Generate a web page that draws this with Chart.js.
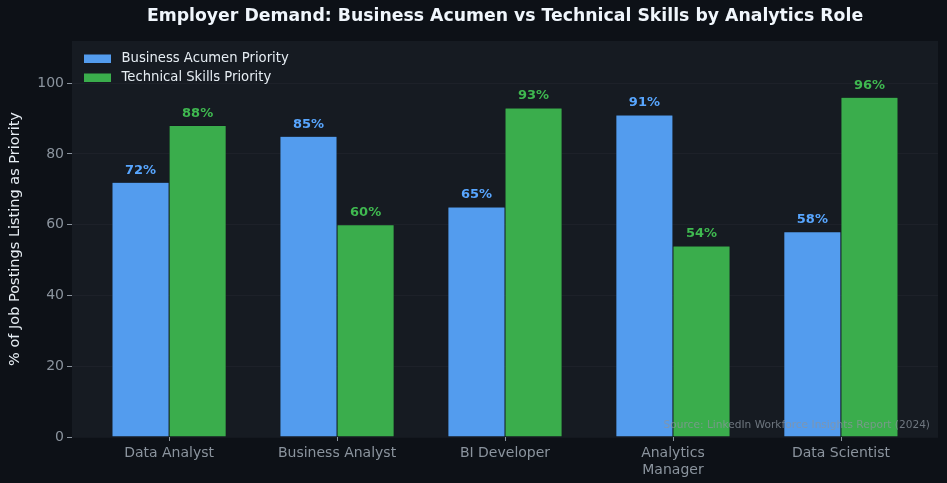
<!DOCTYPE html>
<html>
<head>
<meta charset="utf-8">
<script src="https://cdn.jsdelivr.net/npm/chart.js@4"></script>
<style>
  html, body { margin: 0; padding: 0; background: #0d1117; }
  #wrap { width: 947px; height: 483px; }
</style>
</head>
<body>
<div id="wrap"><canvas id="chart" width="947" height="483"></canvas></div>
<script>
// data
const roles = ['Data Analyst', 'Business Analyst', 'BI Developer', 'Analytics Manager', 'Data Scientist'];
const businessAcumen = [72, 85, 65, 91, 58];
const technicalSkills = [88, 60, 93, 54, 96];
const yTicks = [0, 20, 40, 60, 80, 100];

const blue = '#539cee';
const green = '#3aad4c';
const font = '"DejaVu Sans", sans-serif';

// split long labels in two lines like the original
function wrapLabel(s) {
    if (s === 'Analytics Manager') return ['Analytics', 'Manager'];
    return s;
}

const decor = {
    id: 'decor',
    beforeDraw(chart) {
        const ctx = chart.ctx;
        const a = chart.chartArea;
        ctx.save();
        ctx.fillStyle = '#0d1117';
        ctx.fillRect(0, 0, chart.width, chart.height);
        ctx.fillStyle = '#161b22';
        ctx.fillRect(a.left, a.top, a.right - a.left, a.bottom - a.top);
        ctx.restore();
    },
    afterDatasetsDraw(chart) {
        const ctx = chart.ctx;
        const a = chart.chartArea;
        ctx.save();

        // value labels
        ctx.font = 'bold 13px ' + font;
        ctx.textAlign = 'center';
        ctx.textBaseline = 'middle';
        const labelColors = ['#58a6ff', '#3fb950'];
        chart.data.datasets.forEach((ds, di) => {
            chart.getDatasetMeta(di).data.forEach((bar, i) => {
                ctx.fillStyle = labelColors[di];
                ctx.fillText(ds.data[i].y + '%', bar.x, bar.y - 12);
            });
        });

        // legend inside the plot
        ctx.font = '13.2px ' + font;
        ctx.textAlign = 'left';
        chart.data.datasets.forEach((ds, di) => {
            const y = a.top + 17.5 + di * 19;
            ctx.fillStyle = ds.backgroundColor;
            ctx.fillRect(a.left + 12, y - 4, 27, 8.5);
            ctx.fillStyle = '#e6edf3';
            ctx.fillText(ds.label, a.left + 49.5, y);
        });

        // source note
        ctx.font = '10.6px ' + font;
        ctx.textAlign = 'right';
        ctx.fillStyle = 'rgba(139,148,158,0.75)';
        ctx.fillText('Source: LinkedIn Workforce Insights Report (2024)', a.right - 8, a.bottom - 12);

        // x tick marks
        ctx.strokeStyle = '#8b949e';
        ctx.lineWidth = 1;
        chart.scales.x.ticks.forEach(t => {
            const x = Math.round(chart.scales.x.getPixelForValue(t.value)) + 0.5;
            ctx.beginPath();
            ctx.moveTo(x, a.bottom);
            ctx.lineTo(x, a.bottom + 4);
            ctx.stroke();
        });

        // title centred over the plot
        ctx.font = 'bold 17.3px ' + font;
        ctx.textAlign = 'center';
        ctx.fillStyle = '#f0f6fc';
        ctx.fillText('Employer Demand: Business Acumen vs Technical Skills by Analytics Role', (a.left + a.right) / 2, 17);
        ctx.restore();
    }
};

const ctx = document.getElementById('chart').getContext('2d');
new Chart(ctx, {
    type: 'bar',
    data: {
        datasets: [{
            label: 'Business Acumen Priority',
            data: businessAcumen.map((v, i) => ({ x: i, y: v })),
            backgroundColor: blue,
            borderColor: 'rgba(13,17,23,0.8)',
            borderWidth: 0.5
        }, {
            label: 'Technical Skills Priority',
            data: technicalSkills.map((v, i) => ({ x: i, y: v })),
            backgroundColor: green,
            borderColor: 'rgba(13,17,23,0.8)',
            borderWidth: 0.5
        }]
    },
    options: {
        responsive: false,
        animation: false,
        categoryPercentage: 0.68,
        barPercentage: 1,
        layout: { padding: { top: 41, right: 9, left: 0, bottom: 0 } },
        plugins: {
            legend: { display: false },
            tooltip: { enabled: false }
        },
        scales: {
            x: {
                type: 'linear',
                offset: false,
                min: -0.578,
                max: 4.578,
                afterBuildTicks: axis => { axis.ticks = roles.map((_, i) => ({ value: i })); },
                afterFit: axis => { axis.height = 46; },
                border: { display: false },
                grid: {
                    offset: false,
                    drawOnChartArea: false,
                    drawTicks: true,
                    tickLength: 5,
                    tickColor: 'rgba(0,0,0,0)'
                },
                ticks: {
                    color: '#8b949e',
                    font: { family: font, size: 14 },
                    padding: 3,
                    maxRotation: 0,
                    autoSkip: false,
                    callback: v => wrapLabel(roles[v])
                }
            },
            y: {
                min: 0,
                max: 111.9,
                afterBuildTicks: axis => { axis.ticks = yTicks.map(v => ({ value: v })); },
                afterFit: axis => { axis.width = 72; },
                border: { display: false },
                grid: {
                    color: 'rgba(110,118,129,0.08)',
                    borderDash: [2, 3],
                    tickLength: 5,
                    tickColor: '#8b949e'
                },
                ticks: {
                    color: '#8b949e',
                    font: { family: font, size: 14 },
                    padding: 3
                },
                title: {
                    display: true,
                    text: '% of Job Postings Listing as Priority',
                    color: '#e6edf3',
                    font: { family: font, size: 14.5 },
                    padding: { top: 7, bottom: 0 }
                }
            }
        }
    },
    plugins: [decor]
});
</script>
</body>
</html>
